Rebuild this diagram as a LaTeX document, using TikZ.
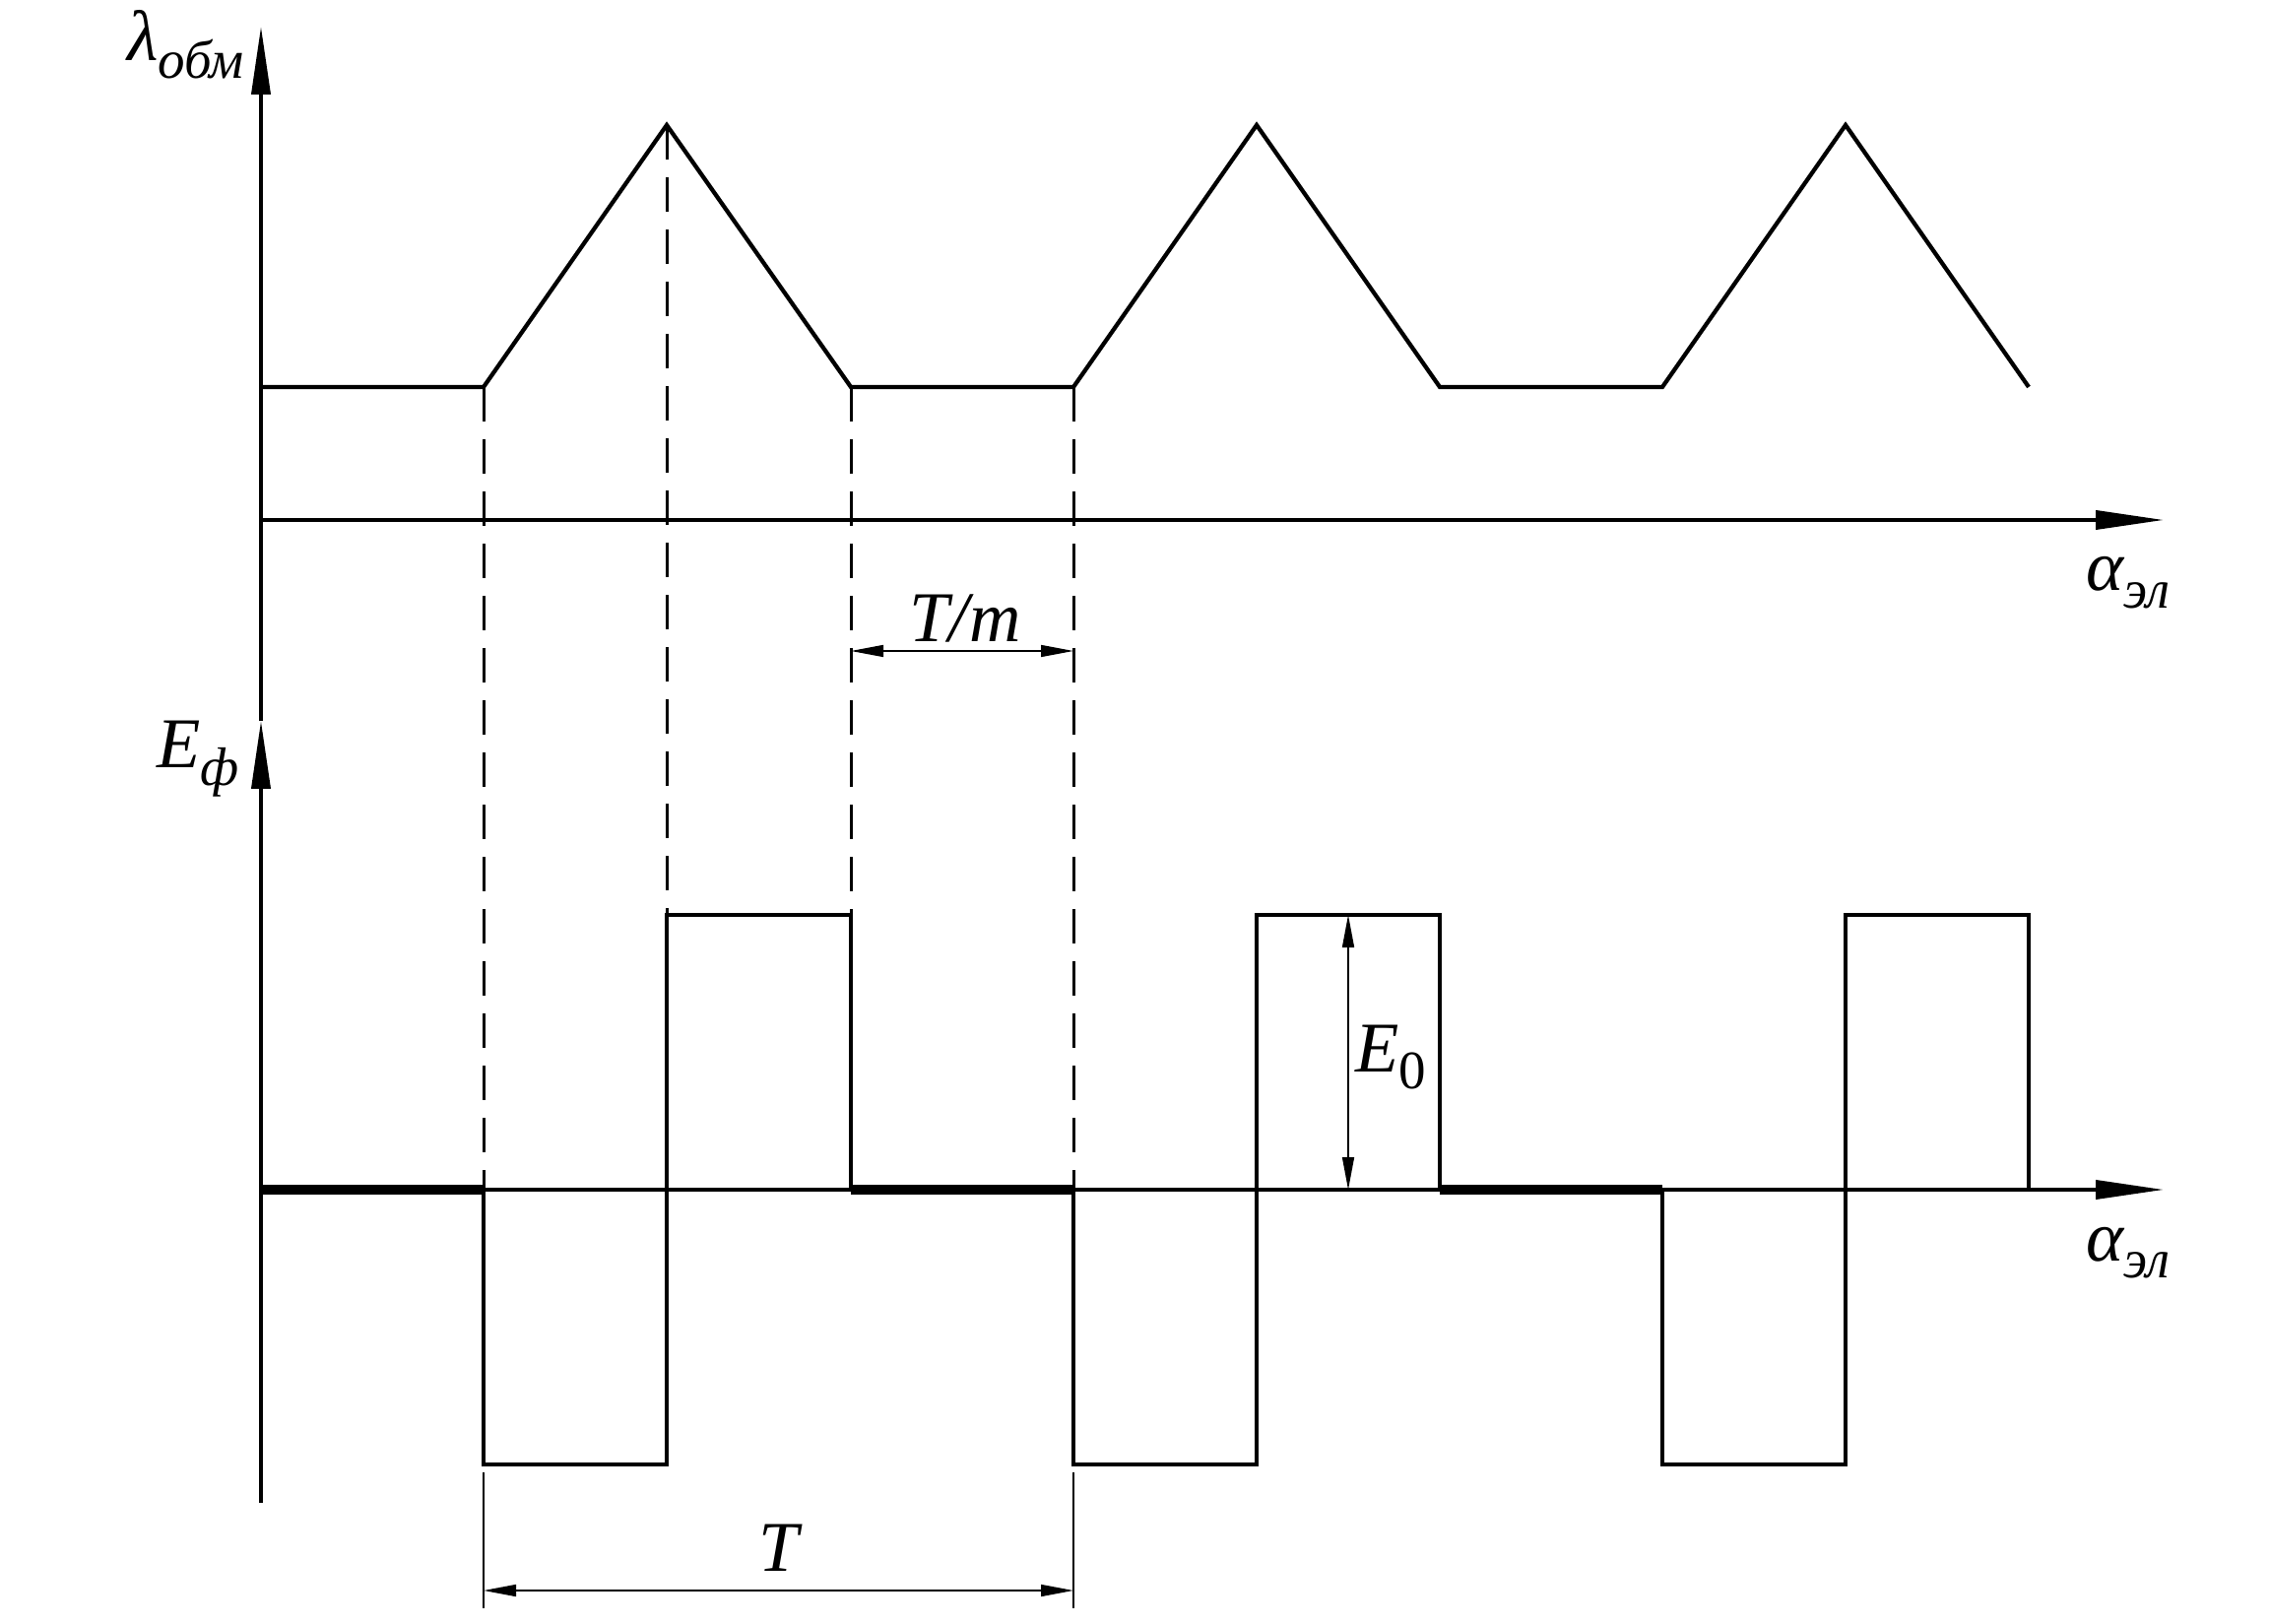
\documentclass[tikz,border=0pt]{standalone}
\usepackage{fontspec}
\setmainfont{Liberation Serif}
\usepackage{tikz}
\usetikzlibrary{arrows.meta}
\usetikzlibrary{positioning}
\tikzstyle{axe}=[line width=0.75pt,-{Triangle[length=13.8pt,width=3.8pt]}]
\tikzstyle{courbe}=[line width=0.85pt]
\tikzstyle{epais}=[line width=1.9pt]
\tikzstyle{rappel}=[line width=0.6pt,dash pattern=on 7pt off 3.6pt]
\tikzstyle{ligne}=[line width=0.3pt]
\tikzstyle{cote}=[line width=0.3pt,{Triangle[length=6.6pt,width=2.4pt]}-{Triangle[length=6.6pt,width=2.4pt]}]
\tikzstyle{etiq}=[inner sep=0pt,font=\fontsize{14.5}{16}\selectfont\itshape]
\newcommand{\indice}[1]{\raisebox{-3.5pt}{\fontsize{11}{12}\selectfont #1}}

\begin{document}
\begin{tikzpicture}[x=0.2pt,y=-0.2pt]
\useasboundingbox (0,0) rectangle (2304,1649);
%axes
\coordinate (bas) at (265,1526);
\coordinate (haut) at (265,27);
\coordinate (ef) at (265,732);
\coordinate (o1) at (265,528);
\coordinate (x1) at (2197,528);
\coordinate (o2) at (265,1208);
\coordinate (x2) at (2197,1208);
\draw[axe] (bas) -- (ef);
\draw[axe] (ef) -- (haut);
\draw[axe] (o1) -- (x1);
\draw[axe] (o2) -- (x2);
\node[etiq,anchor=base east] (lam) at (249,62) {λ\indice{обм}};
\node[etiq,anchor=base west] (eph) at (158,780) {E\indice{ф}};
\node[etiq,anchor=base west] (al1) at (2117,600) {α\indice{эл}};
\node[etiq,anchor=base west] (al2) at (2117,1280) {α\indice{эл}};
%courbe du haut
\draw[courbe] (o1 |- 0,393) -- (491,393) -- (677,127) -- (864,393) -- (1090,393)
  -- (1276,127) -- (1462,393) -- (1688,393) -- (1874,127) -- (2060,393);
%courbe du bas
\draw[epais] (o2) -- (491,1208);
\draw[epais] (864,1208) -- (1090,1208);
\draw[epais] (1462,1208) -- (1688,1208);
\draw[courbe] (491,1208) -- (491,1487) -- (677,1487) -- (677,929) -- (864,929) -- (864,1208);
\draw[courbe] (1090,1208) -- (1090,1487) -- (1276,1487) -- (1276,929) -- (1462,929) -- (1462,1208);
\draw[courbe] (1688,1208) -- (1688,1487) -- (1874,1487) -- (1874,929) -- (2060,929) -- (2060,1208);
%lignes de rappel
\draw[rappel] (491,393) -- (491,1208);
\draw[rappel] (677,127) -- (677,929);
\draw[rappel] (864,393) -- (864,929);
\draw[rappel] (1090,393) -- (1090,1208);
\draw[ligne] (491,1495) -- (491,1633);
\draw[ligne] (1090,1495) -- (1090,1633);
%cotes
\coordinate (tm1) at (864,661);
\coordinate (tm2) at (1090,661);
\draw[cote] (tm1) -- (tm2);
\node[etiq,anchor=base] (tm) at (980,652) {T/m};
\coordinate (t1) at (491,1615);
\coordinate (t2) at (1090,1615);
\draw[cote] (t1) -- (t2);
\node[etiq,anchor=base] (t) at (791,1595) {T};
\coordinate (e1) at (1369,929);
\coordinate (e2) at (1369,1208);
\draw[cote] (e1) -- (e2);
\node[etiq,anchor=base west] (e0) at (1375,1088) {E\indice{\upshape 0}};
\end{tikzpicture}
\end{document}
